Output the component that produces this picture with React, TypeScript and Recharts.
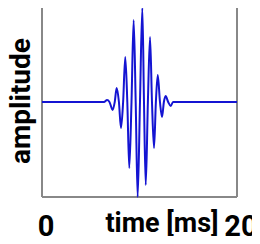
import React from 'react';
import { LineChart, Line, XAxis, YAxis, Label, ReferenceLine } from 'recharts';

// wave packet: time in ms, amplitude normalised to the frame
const timeMs = [
    0, 6.36, 6.67, 6.92, 7.25, 7.46, 7.66, 7.89, 8.1, 8.32, 8.54, 8.75, 8.95, 9.18, 9.4, 9.61, 9.81,
    10.05, 10.29, 10.46, 10.64, 10.86, 11.08, 11.28, 11.49, 11.68, 11.87, 12.1, 12.31, 12.5, 12.68,
    12.94, 13.2, 13.44, 20,
];
const amplitude = [
    0, 0, 0.02, 0, -0.084, 0, 0.147, 0, -0.274, 0, 0.474, 0, -0.695, 0, 0.863, 0, -1.0,
    0, 0.99, 0, -0.874, 0, 0.684, 0, -0.484, 0, 0.284, 0, -0.158, 0, 0.063,
    0, -0.042, 0, 0,
];
const xTicks = [0, 20];
const xDomain = [0, 20];
const yDomain = [-1, 1];
const xLabel = 'time [ms]';
const yLabel = 'amplitude';

const FONT = 'Roboto, "Liberation Sans", Arial, sans-serif';
const FRAME_COLOR = '#888';

const chartData = timeMs.map((t, i) => ({ t, a: amplitude[i] }));

// tick labels sit well below the frame, on a shared baseline
const TimeTick = ({ x, payload }: any) => (
    <text x={x + 4} y={236} textAnchor="middle" fontFamily={FONT} fontWeight={700} fontSize={29} fill="#000">
        {payload.value}
    </text>
);

const XLabel = () => (
    <text x={162} y={232} textAnchor="middle" fontFamily={FONT} fontWeight={700} fontSize={27} fill="#000">
        {xLabel}
    </text>
);

const YLabel = () => {
    const cx = 30;
    const cy = 101;
    return (
        <text
            x={cx}
            y={cy}
            transform={`rotate(-90 ${cx} ${cy})`}
            textAnchor="middle"
            fontFamily={FONT}
            fontWeight={700}
            fontSize={28}
            fill="#000"
        >
            {yLabel}
        </text>
    );
};

export default function App() {
    return (
        <div style={{ width: 260, height: 244, margin: -8, background: '#fff' }}>
            <LineChart width={260} height={244} data={chartData} margin={{ top: 7, right: 23, left: 0, bottom: 0 }}>
                <XAxis
                    dataKey="t"
                    type="number"
                    domain={xDomain}
                    ticks={xTicks}
                    height={47}
                    axisLine={false}
                    tickLine={false}
                    tick={<TimeTick />}
                    interval={0}
                >
                    <Label content={<XLabel />} />
                </XAxis>
                <YAxis type="number" domain={yDomain} width={42} axisLine={false} tickLine={false} tick={false}>
                    <Label content={<YLabel />} />
                </YAxis>
                {/* plot frame, drawn on the domain edges */}
                {yDomain.map((v) => (
                    <ReferenceLine key={`y${v}`} y={v} stroke={FRAME_COLOR} strokeWidth={2} ifOverflow="visible" />
                ))}
                {xDomain.map((v) => (
                    <ReferenceLine key={`x${v}`} x={v} stroke={FRAME_COLOR} strokeWidth={2} ifOverflow="visible" />
                ))}
                <Line
                    type="monotone"
                    dataKey="a"
                    stroke="#1414d2"
                    strokeWidth={2}
                    dot={false}
                    isAnimationActive={false}
                />
            </LineChart>
        </div>
    );
}
